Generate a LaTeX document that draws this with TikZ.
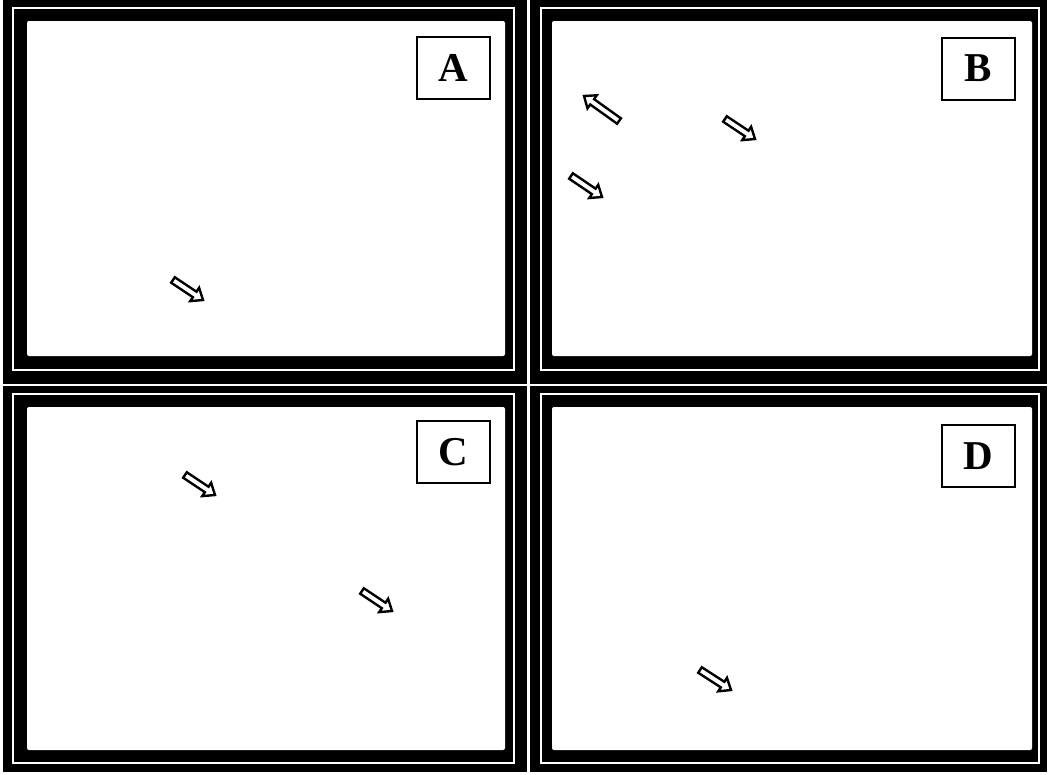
\documentclass[tikz,border=0pt]{standalone}
\usepackage{fontspec}
\setmainfont{Liberation Serif}
\usetikzlibrary{calc}
\definecolor{panelink}{HTML}{000000}
\definecolor{panelpaper}{HTML}{FFFFFF}
\tikzset{
  panel frame/.style={fill=panelink},
  panel rule/.style={draw=panelpaper, line width=1.6pt},
  panel inner/.style={fill=panelpaper, rounded corners=2pt},
  panel tag/.style={
    rectangle, draw=panelink, fill=panelpaper, text=panelink,
    line width=2pt, minimum width=73pt, minimum height=62pt,
    inner sep=0pt, font=\fontsize{41}{48}\selectfont\bfseries
  },
  panel pointer/.style={
    draw=panelink, fill=panelpaper, line width=2.4pt, line join=miter,
    to path={
      ($(\tikztostart)!3.3pt!90:(\tikztotarget)$)
      -- ($($(\tikztotarget)!10pt!(\tikztostart)$)!3.3pt!90:(\tikztotarget)$)
      -- ($($(\tikztotarget)!10pt!(\tikztostart)$)!8pt!90:(\tikztotarget)$)
      -- (\tikztotarget)
      -- ($($(\tikztotarget)!10pt!(\tikztostart)$)!8pt!-90:(\tikztotarget)$)
      -- ($($(\tikztotarget)!10pt!(\tikztostart)$)!3.3pt!-90:(\tikztotarget)$)
      -- ($(\tikztostart)!3.3pt!-90:(\tikztotarget)$)
      -- cycle
    }
  }
}

\begin{document}
\begin{tikzpicture}[x=1pt,y=-1pt]
  \useasboundingbox[fill=panelpaper] (0,0) rectangle (1048,774);

  % frames
  \fill[panel frame] (3,0) rectangle (527,384);
  \draw[panel rule] (13,8) rectangle (514,370);
  \fill[panel inner] (27,21) rectangle (505,356);

  \fill[panel frame] (530,0) rectangle (1047,384);
  \draw[panel rule] (541,8) rectangle (1039,370);
  \fill[panel inner] (552,21) rectangle (1032,356);

  \fill[panel frame] (3,386) rectangle (527,772);
  \draw[panel rule] (13,394) rectangle (514,763);
  \fill[panel inner] (27,407) rectangle (505,750);

  \fill[panel frame] (530,386) rectangle (1047,772);
  \draw[panel rule] (541,394) rectangle (1039,763);
  \fill[panel inner] (552,407) rectangle (1032,750);

  % tags
  \node[panel tag] (tagA) at (453.5,67.5) {A};
  \node[panel tag] (tagB) at (978,68.5) {B};
  \node[panel tag] (tagC) at (453.5,452) {C};
  \node[panel tag] (tagD) at (978,456) {D};

  % pointers
  \coordinate (aTail) at (173,280);
  \coordinate (aTip) at (203,300);
  \coordinate (bTail1) at (619,121);
  \coordinate (bTip1) at (584,96);
  \coordinate (bTail2) at (571,176);
  \coordinate (bTip2) at (602,197);
  \coordinate (bTail3) at (725,119);
  \coordinate (bTip3) at (755,139);
  \coordinate (cTail1) at (185,475);
  \coordinate (cTip1) at (215,495);
  \coordinate (cTail2) at (362,591);
  \coordinate (cTip2) at (392,611);
  \coordinate (dTail) at (700,670);
  \coordinate (dTip) at (731,690);

  \draw[panel pointer] (aTail) to (aTip);
  \draw[panel pointer] (bTail1) to (bTip1);
  \draw[panel pointer] (bTail2) to (bTip2);
  \draw[panel pointer] (bTail3) to (bTip3);
  \draw[panel pointer] (cTail1) to (cTip1);
  \draw[panel pointer] (cTail2) to (cTip2);
  \draw[panel pointer] (dTail) to (dTip);
\end{tikzpicture}
\end{document}
